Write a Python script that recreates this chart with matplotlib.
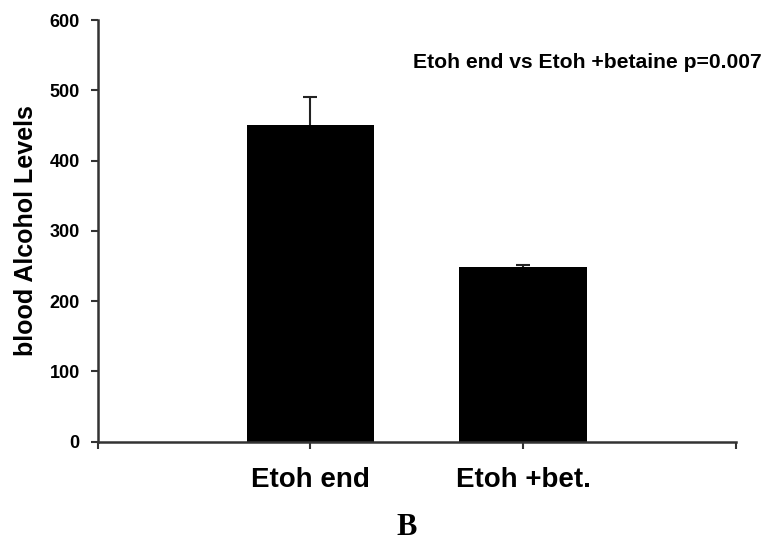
import numpy as np
import matplotlib.pyplot as plt

groups = ["Etoh end", "Etoh +bet."]
alcohol = [450, 248]
err_up = [40, 3]
y_ticks = [0, 100, 200, 300, 400, 500, 600]

plt.rcParams['font.family'] = ['Liberation Sans', 'DejaVu Sans']
plt.rcParams['font.weight'] = 'bold'

fig = plt.figure(figsize=(7.65, 5.42), dpi=100)
ax = fig.add_axes([0.1277, 0.185, 0.834, 0.778])

pos = np.arange(1, len(groups) + 1)
ax.bar(pos, alcohol, width=0.6, color='black', zorder=2)
_, caps, _ = ax.errorbar(pos, alcohol, yerr=[np.zeros(len(err_up)), err_up], fmt='none',
                         ecolor='#222222', elinewidth=1.5, capsize=5, capthick=1.5, zorder=1)
caps[0].set_visible(False)  # only the upper whisker is shown

ax.set_xlim(0, len(groups) + 1)
ax.set_ylim(0, 600)
ax.set_xticks(np.arange(0, len(groups) + 2))
ax.set_xticklabels([""] + groups + [""], fontsize=20, fontweight='bold')
ax.set_yticks(y_ticks)
ax.set_yticklabels([str(v) for v in y_ticks], fontsize=13, fontweight='bold')
ax.tick_params(axis='x', direction='out', length=5, width=1.5, color='#333333', pad=13)
ax.tick_params(axis='y', direction='out', length=5, width=1.5, color='#333333', pad=8)

for side in ['top', 'right']:
    ax.spines[side].set_visible(False)
for side in ['left', 'bottom']:
    ax.spines[side].set_color('#333333')
    ax.spines[side].set_linewidth(1.8)

ax.set_ylabel("blood Alcohol Levels", fontsize=18, fontweight='bold', labelpad=8)

fig.text(0.54, 0.884, "Etoh end vs Etoh +betaine p=0.007", fontsize=15.2,
         fontweight='bold', ha='left', va='center')
fig.text(0.531, 0.027, "B", fontsize=22, fontweight='bold',
         family=['Liberation Serif', 'DejaVu Serif'], ha='center', va='center')

fig.savefig('out.png', dpi=100)
